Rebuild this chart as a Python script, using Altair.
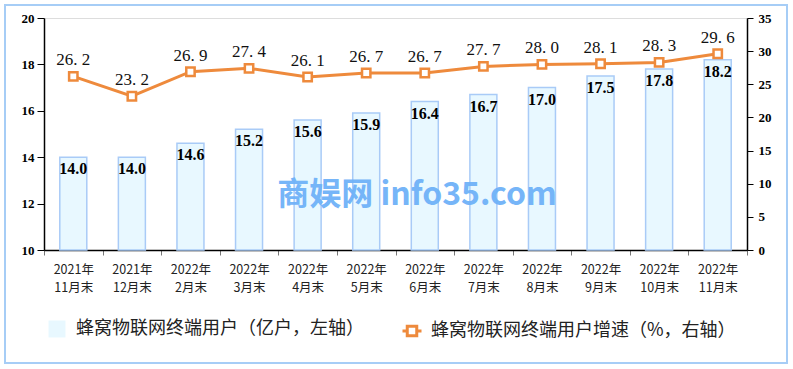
import altair as alt
import pandas as pd

periods = ["2021年\n11月末", "2021年\n12月末", "2022年\n2月末", "2022年\n3月末",
           "2022年\n4月末", "2022年\n5月末", "2022年\n6月末", "2022年\n7月末",
           "2022年\n8月末", "2022年\n9月末", "2022年\n10月末", "2022年\n11月末"]
users = [14.0, 14.0, 14.6, 15.2, 15.6, 15.9, 16.4, 16.7, 17.0, 17.5, 17.8, 18.2]
growth = [26.2, 23.2, 26.9, 27.4, 26.1, 26.7, 26.7, 27.7, 28.0, 28.1, 28.3, 29.6]

left_ticks = [10, 12, 14, 16, 18, 20]
right_ticks = [0, 5, 10, 15, 20, 25, 30, 35]

bar_name = "蜂窝物联网终端用户（亿户，左轴）"
line_name = "蜂窝物联网终端用户增速（%，右轴）"
watermark = "商娱网 info35.com"

df = pd.DataFrame({"period": periods, "users": users, "growth": growth,
                   "s1": bar_name, "s2": line_name})

ORANGE = "#ee8a3c"
BAR_FILL = "#e8f8ff"
BAR_STROKE = "#a9cbf7"

x_axis = alt.Axis(labelAngle=0, labelExpr="split(datum.label, '\\n')",
                  labelFont="Noto Sans CJK SC", labelFontSize=12.5,
                  labelColor="#222", labelLineHeight=18, labelPadding=8,
                  tickBand="extent", tickSize=5, tickColor="#777",
                  domainColor="#000", domainWidth=1.5, labelBaseline="top")
x_scale = alt.Scale(paddingInner=0, paddingOuter=0)
x = alt.X("period:N", sort=periods, title=None, scale=x_scale, axis=x_axis)

left_scale = alt.Scale(domain=[10, 20], zero=False, nice=False)
right_scale = alt.Scale(domain=[0, 35], nice=False)

left_axis = alt.Axis(values=left_ticks, orient="left", labelFont="Liberation Serif",
                     labelFontSize=13, labelColor="#000", tickSize=7, tickColor="#000",
                     domainColor="#000", domainWidth=1.5, labelPadding=3, grid=False,
                     labelOverlap=False, labelFontWeight="bold")
right_axis = alt.Axis(values=right_ticks, orient="right", labelFont="Liberation Serif",
                      labelFontSize=13, labelColor="#000", tickSize=6, tickColor="#000",
                      domainColor="#000", domainWidth=1.5, labelPadding=5, grid=False,
                      labelOverlap=False, labelFontWeight="bold")

yl = alt.Y("users:Q", title=None, scale=left_scale, axis=left_axis)
yr = alt.Y("growth:Q", title=None, scale=right_scale, axis=right_axis)

base = alt.Chart(df)

bars = base.mark_bar(size=27, stroke=BAR_STROKE, strokeWidth=1.5).encode(
    x=x, y=yl, y2=alt.datum(10),
    fill=alt.Fill("s1:N", title=None,
                  scale=alt.Scale(domain=[bar_name], range=[BAR_FILL]),
                  legend=alt.Legend(orient="none", legendX=4, legendY=302,
                                    symbolType="square", symbolSize=289,
                                    symbolStrokeWidth=0, labelFont="Noto Sans CJK SC",
                                    labelFontSize=18, labelColor="#222", labelOffset=10,
                                    padding=0, labelLimit=400)),
)

bar_labels = base.mark_text(font="Liberation Serif", fontSize=16, fontWeight="bold",
                            baseline="top", dy=4, color="#000").encode(
    x=x, y=yl, text=alt.Text("users:Q", format=".1f"),
)

left = alt.layer(bars, bar_labels)

line = base.mark_line(strokeWidth=3).encode(
    x=x, y=yr,
    stroke=alt.Stroke("s2:N", title=None,
                      scale=alt.Scale(domain=[line_name], range=[ORANGE]),
                      legend=alt.Legend(orient="none", legendX=357, legendY=302,
                                        symbolType="M-1,0H-0.5M0.5,0H1M-0.5,-0.5H0.5V0.5H-0.5Z",
                                        symbolSize=361, symbolStrokeWidth=3,
                                        symbolFillColor="white",
                                        labelFont="Noto Sans CJK SC", labelFontSize=18,
                                        labelColor="#222", labelOffset=8, padding=0,
                                        labelLimit=400)),
)

points = base.mark_point(shape="square", size=70, filled=True, fill="white",
                         stroke=ORANGE, strokeWidth=2.5, opacity=1).encode(x=x, y=yr)

line_labels = base.transform_calculate(
    lab="replace(format(datum.growth, '.1f'), '.', '. ')"
).mark_text(font="Liberation Serif", fontSize=17, baseline="middle", dy=-16,
            color="#111").encode(x=x, y=yr, text="lab:N")

right = alt.layer(line, points, line_labels)

wm = alt.Chart(alt.Data(values=[{"t": watermark}])).mark_text(
    font="Noto Sans CJK SC", fontSize=32, fontWeight="bold", color="#6fb2f8",
    opacity=0.95, align="center", baseline="middle").encode(
    x=alt.value(373), y=alt.value(177), text="t:N")

border = alt.Chart(alt.Data(values=[{"a": 1}])).mark_rect(
    fill=None, stroke="#a6cdf6", strokeWidth=2).encode(
    x=alt.value(-39), x2=alt.value(743), y=alt.value(-13), y2=alt.value(345))

chart = alt.layer(left, right, wm, border).resolve_scale(
    y="independent", fill="independent", stroke="independent"
).properties(
    width=703, height=232,
    autosize=alt.AutoSizeParams(type="none"),
    padding={"left": 44, "top": 18, "right": 46, "bottom": 119},
).configure_view(stroke=None).configure(background="white")

chart.save("out.html", embed_options={"renderer": "svg", "actions": False})
